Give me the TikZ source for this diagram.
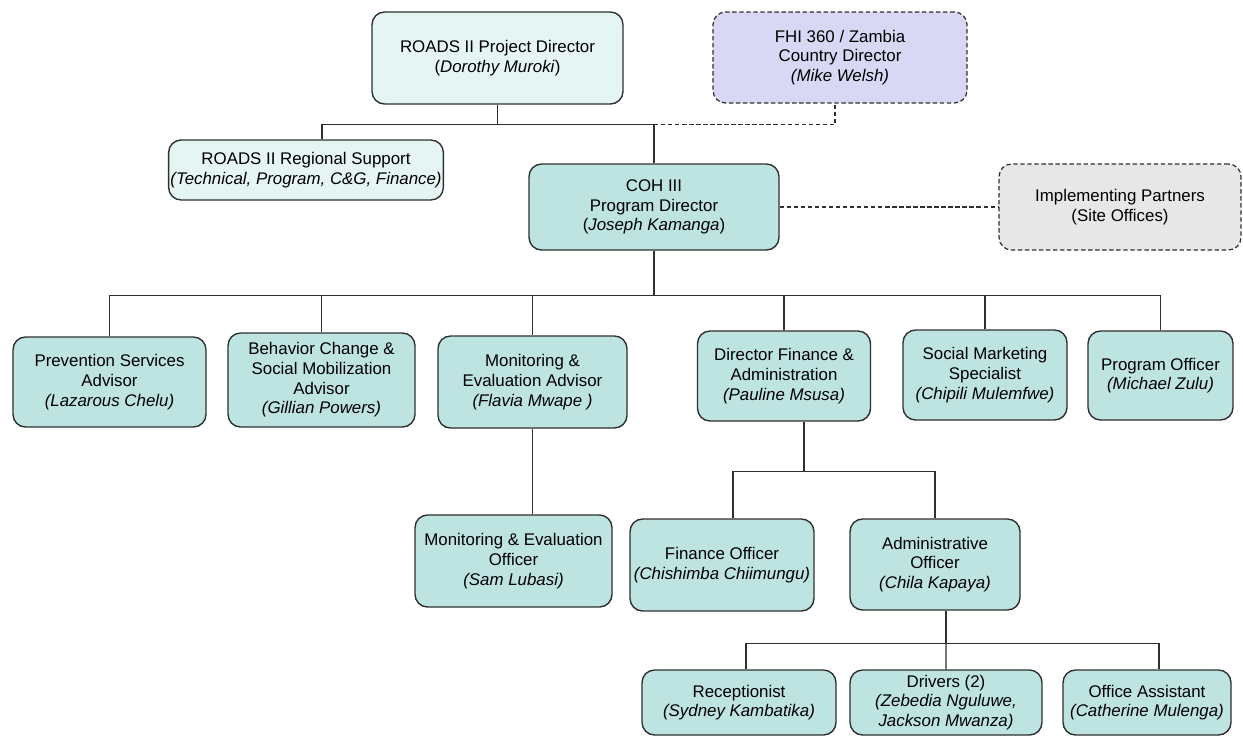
\documentclass[tikz,border=0pt]{standalone}
\usepackage{fontspec}
\setmainfont{Liberation Sans}
\usepackage{xcolor}
\usetikzlibrary{positioning}
\definecolor{boxpale}{HTML}{E4F5F3}
\definecolor{boxteal}{HTML}{BEE4E1}
\definecolor{boxlilac}{HTML}{D8D8F4}
\definecolor{boxgrey}{HTML}{E7E7E7}
\definecolor{boxline}{HTML}{303030}

\begin{document}
\begin{tikzpicture}[
  x=0.02cm, y=-0.02cm,
  font=\fontsize{9.6}{11.2}\selectfont,
  unit/.style={draw=boxline,line width=0.8pt,rounded corners=2.5mm,fill=boxteal,align=center,inner sep=2pt},
  top/.style={unit,fill=boxpale},
  outside/.style={unit,dash pattern=on 2.5pt off 1.5pt,line width=0.7pt},
  link/.style={draw=boxline,line width=0.8pt}
]
\useasboundingbox (0,0) rectangle (1243,738);
\node[top,minimum width=5.02cm,minimum height=1.84cm] (pd) at (497.5,58) {ROADS II Project Director\\(\textit{Dorothy Muroki})};
\node[outside,fill=boxlilac,minimum width=5.08cm,minimum height=1.82cm] (fhi) at (840,57.5) {FHI 360 / Zambia\\Country Director\\\textit{(Mike Welsh)}};
\node[top,inner xsep=1pt,minimum width=5.28cm,minimum height=1.2cm] (rs) at (306,170) {ROADS II Regional Support\\\textit{(Technical, Program, C\&G, Finance)}};
\node[unit,minimum width=5.0cm,minimum height=1.72cm] (coh) at (654,207) {COH III\\Program Director\\(\textit{Joseph Kamanga})};
\node[outside,fill=boxgrey,minimum width=4.84cm,minimum height=1.72cm] (ip) at (1120,207) {Implementing Partners\\(Site Offices)};

\node[unit,minimum width=3.86cm,minimum height=1.8cm] (psa) at (109.5,382) {Prevention Services\\Advisor\\\textit{(Lazarous Chelu)}};
\node[unit,minimum width=3.74cm,minimum height=1.88cm] (bc) at (321.5,380) {Behavior Change \&\\Social Mobilization\\Advisor\\\textit{(Gillian Powers)}};
\node[unit,minimum width=3.78cm,minimum height=1.84cm] (mea) at (532.5,382) {Monitoring \&\\Evaluation Advisor\\\textit{(Flavia Mwape )}};
\node[unit,minimum width=3.46cm,minimum height=1.8cm] (dfa) at (784,376) {Director Finance \&\\Administration\\\textit{(Pauline Msusa)}};
\node[unit,minimum width=3.28cm,minimum height=1.8cm] (sms) at (985,375) {Social Marketing\\Specialist\\\textit{(Chipili Mulemfwe)}};
\node[unit,minimum width=2.9cm,minimum height=1.78cm] (po) at (1160.5,375.5) {Program Officer\\\textit{(Michael Zulu)}};

\node[unit,minimum width=3.94cm,minimum height=1.84cm] (meo) at (513.5,561) {Monitoring \& Evaluation\\Officer\\\textit{(Sam Lubasi)}};
\node[unit,minimum width=3.68cm,minimum height=1.84cm] (fo) at (722,565) {Finance Officer\\\textit{(Chishimba Chiimungu)}};
\node[unit,minimum width=3.4cm,minimum height=1.82cm] (ao) at (935,564.5) {Administrative\\Officer\\\textit{(Chila Kapaya)}};

\node[unit,minimum width=3.88cm,minimum height=1.3cm] (rec) at (739,702.5) {Receptionist\\\textit{(Sydney Kambatika)}};
\node[unit,minimum width=3.84cm,minimum height=1.3cm] (drv) at (946,702.5) {Drivers (2)\\\textit{(Zebedia Nguluwe,}\\\textit{Jackson Mwanza)}};
\node[unit,minimum width=3.36cm,minimum height=1.3cm] (oa) at (1147,702.5) {Office Assistant\\\textit{(Catherine Mulenga)}};

\draw[link] (pd.south) -- ++(0,20) coordinate (b1);
\draw[link] ([xshift=0.32cm]rs.north) |- (b1) -| (coh.north);
\draw[link,dash pattern=on 2.5pt off 1.5pt,line width=0.7pt] (coh.north |- b1) -| ([xshift=-0.1cm]fhi.south);
\draw[link,dash pattern=on 2.5pt off 1.5pt,line width=0.7pt] (coh) -- (ip);
\draw[link] (coh.south) -- ++(0,45) coordinate (b2);
\foreach \n in {psa,bc,mea,dfa,sms,po}
  \draw[link] (b2) -| (\n.north);
\draw[link] (mea.south) -- (mea.south |- meo.north);
\draw[link] ([xshift=0.4cm]dfa.south) -- ++(0,50) coordinate (b3);
\draw[link] ([xshift=0.22cm]fo.north) |- (b3) -| (ao.north);
\draw[link] ([xshift=0.22cm]ao.south) -- ++(0,33) coordinate (b4);
\draw[link] ([xshift=0.14cm]rec.north) |- (b4) -| ([xshift=0.24cm]oa.north);
\draw[link] (b4) -- (drv);
\end{tikzpicture}
\end{document}
